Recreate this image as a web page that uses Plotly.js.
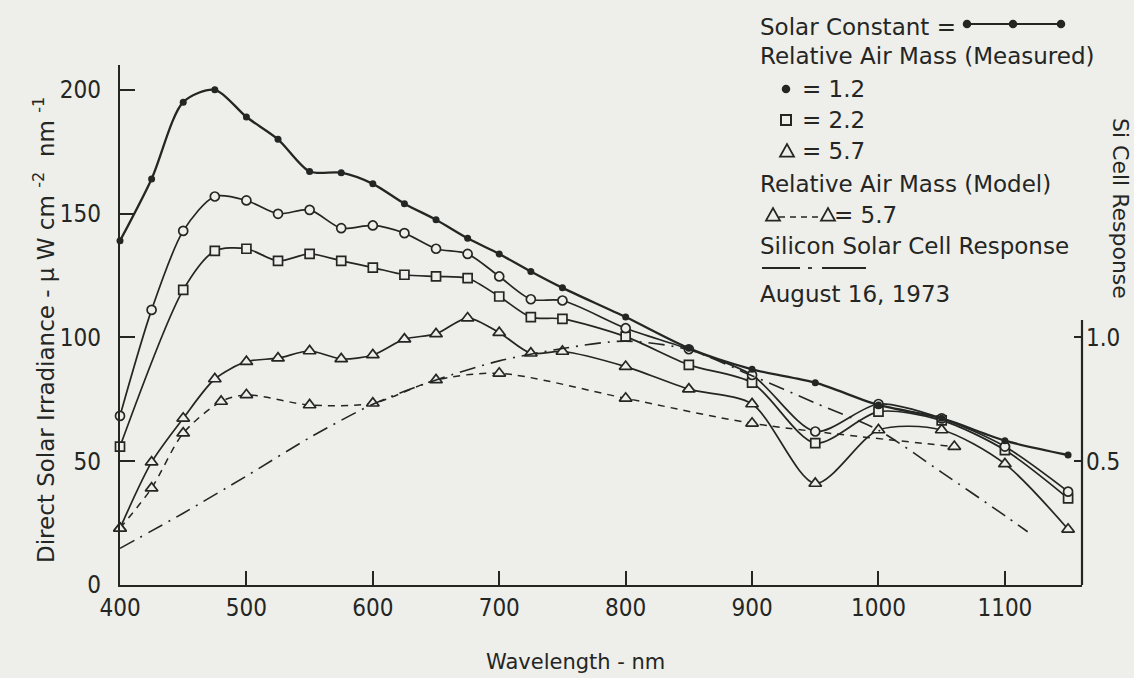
<!DOCTYPE html>
<html>
<head>
<meta charset="utf-8">
<script src="https://cdn.plot.ly/plotly-3.0.1.min.js"></script>
<style>
  html, body { margin: 0; padding: 0; background: #eeeeea; }
  #chart { width: 1134px; height: 678px; }
</style>
</head>
<body>
<div id="chart"></div>
<script>
// Wavelengths (nm) of the measured channels
const wlMeasured = [400, 425, 450, 475, 500, 525, 550, 575, 600, 625, 650, 675, 700, 725, 750, 800, 850, 900, 950, 1000, 1050, 1100, 1150];
const wlAirMass22 = [400, 450, 475, 500, 525, 550, 575, 600, 625, 650, 675, 700, 725, 750, 800, 850, 900, 950, 1000, 1050, 1100, 1150];
const wlModel = [400, 425, 450, 480, 500, 550, 600, 650, 700, 800, 900, 1060];
const wlSiCell = [400, 450, 500, 550, 600, 650, 700, 750, 800, 850, 900, 950, 1000, 1050, 1100, 1118];

// Direct solar irradiance, µW cm^-2 nm^-1
const solarConstant = [139, 164, 195, 200, 189, 180, 167, 166.5, 162, 154, 147.5, 140, 133.7, 126.6, 120, 108.2, 95.6, 87.1, 81.7, 72.7, 67.3, 58.3, 52.5];
const airMass12 = [68.3, 111.1, 143, 156.9, 155.3, 149.9, 151.5, 144.1, 145.2, 142.1, 135.8, 133.7, 124.6, 115.4, 114.9, 103.7, 95.2, 84.8, 62, 73.1, 67.3, 55.9, 37.7];
const airMass22 = [55.9, 119.2, 134.9, 135.8, 130.9, 133.7, 130.9, 128.2, 125.3, 124.6, 123.9, 116.5, 108.2, 107.5, 100.3, 88.9, 81.7, 57.3, 70.0, 66.5, 54.5, 35.0];
const airMass57 = [22.9, 49.6, 67.3, 83.2, 90.2, 91.6, 94.5, 91.3, 92.9, 99.3, 101.4, 107.8, 101.9, 93.6, 94.3, 88.2, 79.1, 73.1, 41.0, 62.6, 62.6, 48.9, 22.5];
const airMass57Model = [22.9, 39.1, 61.3, 74.1, 76.8, 72.7, 73.4, 82.8, 85.5, 75.4, 65.3, 55.9];

// Relative response of a silicon solar cell (right axis)
const siCellResponse = [0.148, 0.29, 0.44, 0.595, 0.73, 0.828, 0.905, 0.955, 0.985, 0.95, 0.845, 0.735, 0.625, 0.455, 0.28, 0.215];

// Axis tick labels
const xTicks = [400, 500, 600, 700, 800, 900, 1000, 1100];
const yTicks = [0, 50, 100, 150, 200];
const y2Ticks = [0.5, 1.0];
const y2TickText = ['0.5', '1.0'];

const INK = '#242624';
const BG = '#eeeeea';
const TEXT_FONT = 'DejaVu Sans, sans-serif';
const TICK_FONT = 'DejaVu Sans Condensed, DejaVu Sans, sans-serif';

// plot area in page pixels
const M = { l: 120, r: 52, t: 65, b: 93 };
const W = 1134, H = 678;
const PW = W - M.l - M.r, PH = H - M.t - M.b;
const px = x => (x - M.l) / PW;          // page x -> paper x
const py = y => (H - M.b - y) / PH;      // page y -> paper y

const openMarker = (symbol, size) => ({
  symbol: symbol, size: size, color: BG, line: { color: INK, width: 1.7 }
});

const traces = [
  {
    x: wlSiCell, y: siCellResponse, yaxis: 'y2', mode: 'lines',
    line: { color: INK, width: 1.6, dash: '16px,7px,2px,7px', shape: 'spline', smoothing: 0.8 },
    hoverinfo: 'skip'
  },
  {
    x: wlModel, y: airMass57Model, mode: 'lines+markers', cliponaxis: false,
    line: { color: INK, width: 1.5, dash: '7px,6px', shape: 'spline', smoothing: 0.8 },
    marker: openMarker('triangle-up', 11)
  },
  {
    x: wlMeasured, y: airMass57, mode: 'lines+markers', cliponaxis: false,
    line: { color: INK, width: 1.7, shape: 'spline', smoothing: 0.8 },
    marker: openMarker('triangle-up', 11)
  },
  {
    x: wlAirMass22, y: airMass22, mode: 'lines+markers', cliponaxis: false,
    line: { color: INK, width: 1.7, shape: 'spline', smoothing: 0.8 },
    marker: openMarker('square', 9)
  },
  {
    x: wlMeasured, y: airMass12, mode: 'lines+markers', cliponaxis: false,
    line: { color: INK, width: 1.7, shape: 'spline', smoothing: 0.8 },
    marker: openMarker('circle', 9)
  },
  {
    x: wlMeasured, y: solarConstant, mode: 'lines+markers', cliponaxis: false,
    line: { color: INK, width: 2.3, shape: 'spline', smoothing: 0.8 },
    marker: { symbol: 'circle', size: 7, color: INK }
  }
];

// key entries, drawn as text plus small sample marks
const keyFont = { family: TEXT_FONT, size: 23, color: INK };
const label = (text, x, y, extra) => Object.assign({
  text: text, xref: 'paper', yref: 'paper', x: px(x), y: py(y),
  xanchor: 'left', yanchor: 'middle', showarrow: false, font: keyFont
}, extra || {});

const annotations = [
  label('Solar Constant =', 758, 27),
  label('Relative Air Mass (Measured)', 758, 56),
  label('= 1.2', 800, 89),
  label('= 2.2', 800, 120),
  label('= 5.7', 800, 151),
  label('Relative Air Mass (Model)', 758, 184),
  label('= 5.7', 832, 215),
  label('Silicon Solar Cell Response', 758, 246),
  label('August 16, 1973', 758, 294),
  {
    text: 'Si Cell Response', xref: 'paper', yref: 'paper', x: px(1121), y: py(208),
    xanchor: 'center', yanchor: 'middle', textangle: 90, showarrow: false,
    font: { family: TEXT_FONT, size: 22, color: INK }
  },
  {
    text: 'Direct Solar Irradiance - \u03bc W cm <sup>-2</sup>  nm <sup>-1</sup>',
    xref: 'paper', yref: 'paper', x: px(44), y: py(330),
    xanchor: 'center', yanchor: 'middle', textangle: -90, showarrow: false,
    font: { family: TEXT_FONT, size: 23, color: INK }
  },
  {
    text: 'Wavelength - nm', xref: 'paper', yref: 'paper', x: px(575), y: py(662),
    xanchor: 'center', yanchor: 'middle', showarrow: false,
    font: { family: TEXT_FONT, size: 21, color: INK }
  }
];

const seg = (x0, y0, x1, y1, dash, width) => ({
  type: 'line', xref: 'paper', yref: 'paper',
  x0: px(x0), y0: py(y0), x1: px(x1), y1: py(y1),
  line: { color: INK, width: width || 1.8, dash: dash || 'solid' }
});
const dot = (cx, cy, r, filled) => ({
  type: 'circle', xref: 'paper', yref: 'paper',
  x0: px(cx - r), x1: px(cx + r), y0: py(cy + r), y1: py(cy - r),
  fillcolor: filled ? INK : BG, line: { color: INK, width: 1.5 }
});
const box = (cx, cy, h) => ({
  type: 'rect', xref: 'paper', yref: 'paper',
  x0: px(cx - h), x1: px(cx + h), y0: py(cy + h), y1: py(cy - h),
  fillcolor: BG, line: { color: INK, width: 2 }
});
const tri = (cx, cy, h) => ({
  type: 'path', xref: 'paper', yref: 'paper',
  path: 'M' + px(cx - h) + ',' + py(cy + h * 0.8) +
        ' L' + px(cx + h) + ',' + py(cy + h * 0.8) +
        ' L' + px(cx) + ',' + py(cy - h) + ' Z',
  fillcolor: BG, line: { color: INK, width: 1.8 }
});

const shapes = [
  // right-hand axis line, only as tall as its scale
  { type: 'line', xref: 'paper', yref: 'y2', x0: 1, x1: 1, y0: 0, y1: 1.07,
    line: { color: INK, width: 2.2 } },
  // solar constant sample
  seg(967, 24, 1061, 24, 'solid', 2),
  dot(967, 24, 3.5, true), dot(1013, 24, 3.5, true), dot(1061, 24, 3.5, true),
  // measured air mass symbols
  dot(786, 89, 3.5, true),
  box(786, 120, 5),
  tri(787, 151, 7),
  // model sample
  seg(779, 217, 822, 217, '6px,5px', 1.6),
  tri(773, 215, 7), tri(828, 215, 7),
  // silicon cell sample
  seg(762, 268, 800, 268, 'solid', 1.8),
  seg(808, 268, 812, 268, 'solid', 1.8),
  seg(822, 268, 866, 268, 'solid', 1.8)
];

const tickFont = { family: TICK_FONT, size: 24, color: INK };

const layout = {
  width: W, height: H,
  margin: M,
  paper_bgcolor: BG, plot_bgcolor: BG,
  showlegend: false,
  xaxis: {
    range: [400, 1161], tickvals: xTicks, ticks: 'inside', ticklen: 14, tickwidth: 2,
    tickcolor: INK, showline: true, linecolor: INK, linewidth: 2.2,
    showgrid: false, zeroline: false, tickfont: tickFont, ticklabelstandoff: 0
  },
  yaxis: {
    range: [0, 210], tickvals: yTicks, ticks: 'inside', ticklen: 15, tickwidth: 2,
    tickcolor: INK, showline: true, linecolor: INK, linewidth: 2.2,
    showgrid: false, zeroline: false, tickfont: tickFont, ticklabelstandoff: 12
  },
  yaxis2: {
    overlaying: 'y', side: 'right', range: [0, 2.1],
    tickvals: y2Ticks, ticktext: y2TickText, ticks: 'inside', ticklen: 8, tickwidth: 2,
    tickcolor: INK, showline: false, showgrid: false, zeroline: false,
    tickfont: tickFont, ticklabelstandoff: 3
  },
  annotations: annotations,
  shapes: shapes
};

Plotly.newPlot('chart', traces, layout, { displayModeBar: false, staticPlot: true });
</script>
</body>
</html>
